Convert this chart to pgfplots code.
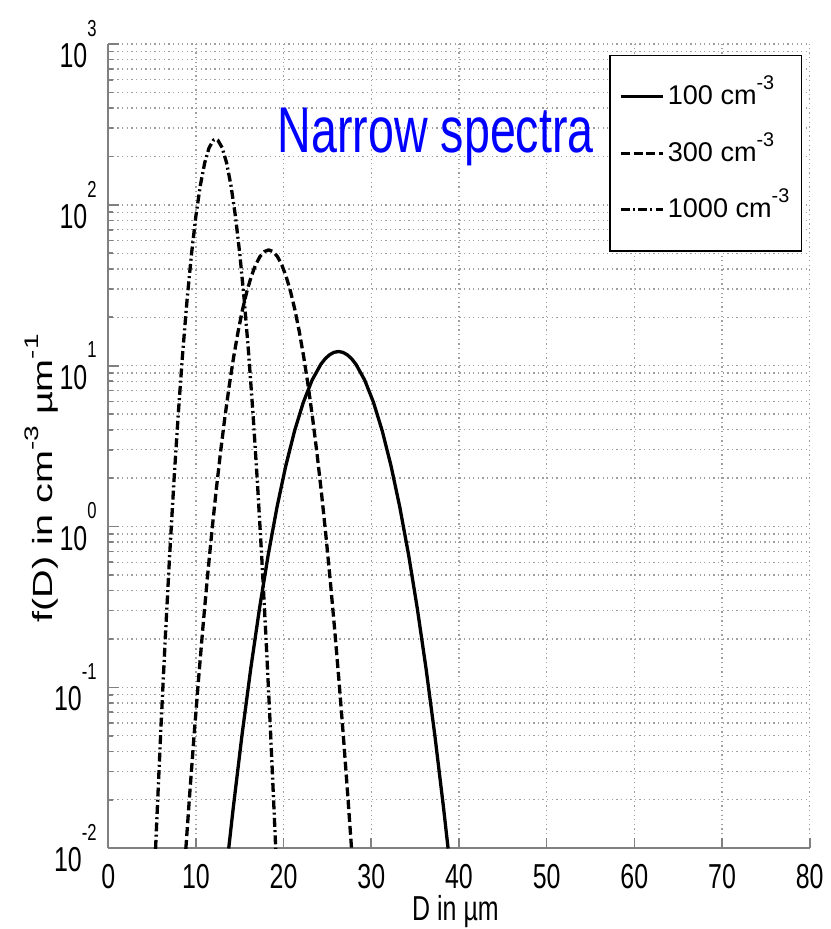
\documentclass[border=0pt]{standalone}
\usepackage{pgfplots}
\pgfplotsset{compat=1.18}
\usepackage{fontspec}
\setmainfont{Liberation Sans}[FakeStretch=0.72]
\newfontfamily\plainsans{Liberation Sans}
\newfontfamily\titlefont{Liberation Sans}[FakeStretch=0.72]
\usetikzlibrary{calc}
\newcommand{\tsup}[1]{\raisebox{9.5pt}{\fontsize{7}{8}\selectfont #1}}
\newcommand{\lsup}[1]{\raisebox{4.6pt}{\fontsize{6}{6.5}\selectfont #1}}
\newcommand{\ticksize}{\fontsize{10.5}{12}\selectfont}
\begin{document}
\begin{tikzpicture}
\begin{axis}[
  width=212.6pt, height=243.7pt, scale only axis,
  xmin=0, xmax=80, ymin=1e-2, ymax=1e3, ymode=log,
  xtick={0,10,...,80},
  ytick={1e-2,1e-1,1,10,100,1000},
  yticklabels={10\tsup{-2},10\tsup{-1},10\tsup{0},10\tsup{1},10\tsup{2},10\tsup{3}},
  grid=both,
  grid style={densely dotted, gray!75, line width=0.4pt},
  minor grid style={densely dotted, gray!75, line width=0.4pt},
  axis x line*=bottom, axis y line*=left,
  axis line style={gray, line width=0.7pt},
  tick align=inside, major tick length=3.2pt, minor tick length=1.5pt,
  tick style={gray, line width=0.5pt},
  /pgf/number format/assume math mode=true,
  xticklabel style={font=\ticksize, yshift=-1.3pt},
  yticklabel style={font=\ticksize},
  xlabel={D in µm},
  xlabel style={font=\ticksize, at={(axis description cs:0.495,0)}, anchor=north, inner sep=0pt, yshift=-14pt},
  ylabel={\scalebox{1}[0.7]{\plainsans\fontsize{12}{14}\selectfont f(D) in cm\raisebox{6pt}{\fontsize{8.5}{9}\selectfont -3} µm\raisebox{6pt}{\fontsize{8.5}{9}\selectfont -1}}},
  ylabel style={at={(axis description cs:-0.095,0.46)}, anchor=center},
  legend style={draw=black, fill=white, line width=0.6pt, at={(0.9897,0.987)}, anchor=north east,
    font=\plainsans\fontsize{8.2}{9.5}\selectfont, row sep=8.1pt, inner xsep=2.7pt, inner ysep=8pt,
    nodes={inner sep=1pt, text height=6pt, text depth=1pt}},
  legend cell align=left,
  legend image code/.code={\draw[#1] (0pt,0pt) -- (12.8pt,0pt);},
]
\coordinate (SW) at (rel axis cs:0,0);
\coordinate (NE) at (rel axis cs:1,1);
\addplot[black, line width=1pt, line join=round] coordinates {
(13.74,0.00995)(14.25,0.01765)(15.25,0.0502)(16.25,0.1303)(17.25,0.3090)(18.25,0.6688)(19.25,1.322)(20.25,2.386)(21.25,3.932)(22.25,5.920)(23.25,8.135)(24.25,10.21)(24.75,11.06)(25.25,11.70)(25.75,12.11)(26.25,12.25)(26.75,12.11)(27.25,11.70)(27.75,11.06)(28.25,10.21)(29.25,8.135)(30.25,5.920)(31.25,3.932)(32.25,2.386)(33.25,1.322)(34.25,0.6688)(35.25,0.3090)(36.25,0.1303)(37.25,0.0502)(38.25,0.01765)(38.76,0.00995)
};
\addlegendentry{100 cm\lsup{-3}}
\addplot[black, line width=1pt, line join=round, dash pattern=on 2.7pt off 1.2pt] coordinates {
(8.85,0.0099)(9.3,0.0220)(9.8,0.0510)(10.3,0.1125)(10.8,0.2368)(11.3,0.475)(11.8,0.908)(12.3,1.655)(12.8,2.874)(13.3,4.76)(13.8,7.51)(14.3,11.29)(14.8,16.19)(15.3,22.12)(15.8,28.80)(16.3,35.74)(16.8,42.29)(17.3,47.69)(17.8,51.23)(18.3,52.5)(18.8,51.23)(19.3,47.69)(19.8,42.29)(20.3,35.74)(20.8,28.80)(21.3,22.12)(21.8,16.19)(22.3,11.29)(22.8,7.51)(23.3,4.76)(23.8,2.874)(24.3,1.655)(24.8,0.908)(25.3,0.475)(25.8,0.2368)(26.3,0.1125)(26.8,0.0510)(27.3,0.0220)(27.75,0.0099)
};
\addlegendentry{300 cm\lsup{-3}}
\addplot[black, line width=1pt, line join=round, dash pattern=on 2.7pt off 1pt on 0.6pt off 1pt] coordinates {
(5.4,0.0099)(5.5,0.01334)(6.0,0.0545)(6.5,0.1995)(7.0,0.656)(7.5,1.937)(8.0,5.13)(8.5,12.19)(9.0,26.0)(9.5,49.8)(10.0,85.5)(10.5,131.8)(11.0,182.4)(11.5,226.5)(12.0,252.5)(12.25,255.9)(12.5,252.5)(13.0,226.5)(13.5,182.4)(14.0,131.8)(14.5,85.5)(15.0,49.8)(15.5,26.0)(16.0,12.19)(16.5,5.13)(17.0,1.937)(17.5,0.656)(18.0,0.1995)(18.5,0.0545)(19.0,0.01334)(19.1,0.0099)
};
\addlegendentry{1000 cm\lsup{-3}}
\node[font=\titlefont\fontsize{19.6}{22}\selectfont, text=blue, anchor=center] at (rel axis cs:0.467,0.8845) {Narrow spectra};
\end{axis}
\pgfresetboundingbox
\path ($(SW)+(-32.8pt,-24.5pt)$) rectangle ($(NE)+(6.3pt,13.35pt)$);
\end{tikzpicture}
\end{document}
